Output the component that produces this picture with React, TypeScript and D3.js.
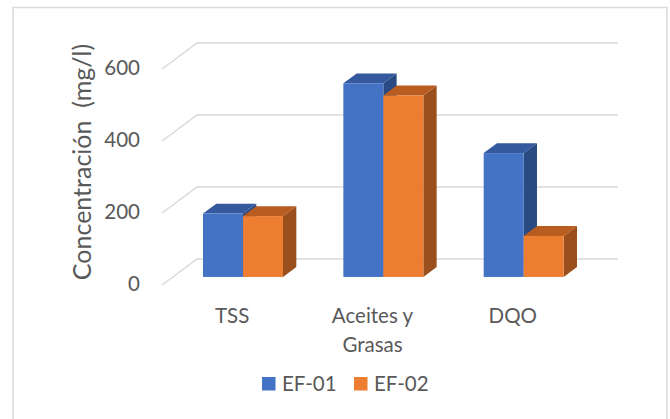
import React from "react";
import * as d3 from "d3";

const categories = ["TSS", "Aceites y|Grasas", "DQO"];
const series = ["EF-01", "EF-02"];
const ef01 = [176, 538, 344];
const ef02 = [169, 504, 114];
const yTicks = [0, 200, 400, 600];
const yTitle = "Concentración  (mg/l)";

const W = 670;
const H = 419;
const FONT = "Lato, 'Open Sans', sans-serif";
const TEXT = "#595959";
const GRID = "#D9D9D9";

const colors = {
  "EF-01": { front: "#4472C4", top: "#34599D", side: "#2A4A84" },
  "EF-02": { front: "#ED7D31", top: "#B85C20", side: "#9A4F1C" },
};

// oblique 3D setup
const floorLeft = 162;
const floorRight = 583;
const depthDx = 35;
const depthDy = -26;
const barDepthFront = 0.31;
const barDepthBack = 0.69;

export default function App() {
  const y = d3.scaleLinear().domain([0, 600]).range([285, 69]);
  const x = d3.scaleBand().domain(categories).range([floorLeft, floorRight]).padding(0);
  const xs = d3.scaleBand().domain(series).range([0, x.bandwidth()]).paddingInner(0).paddingOuter(0.754);
  const off = (d: number) => [depthDx * d, depthDy * d];

  const data = categories.map((c, i) => ({ c, vals: [ef01[i], ef02[i]] }));

  const [bfx, bfy] = off(barDepthFront);
  const [bbx, bby] = off(barDepthBack);

  return (
    <svg width={W} height={H} style={{ position: "absolute", left: 0, top: 0, background: "#fff" }}>
      <rect x={13} y={7.5} width={654} height={430} fill="#fff" stroke={GRID} strokeWidth={1.5} />
      {/* gridlines */}
      {yTicks.map((t) => {
        const yf = y(t);
        const [dx, dy] = off(1);
        return (
          <path
            key={t}
            d={`M${floorLeft},${yf}L${floorLeft + dx},${yf + dy}L${floorRight + dx},${yf + dy}`}
            fill="none"
            stroke={GRID}
            strokeWidth={1.5}
          />
        );
      })}
      {/* tick labels */}
      {yTicks.map((t) => (
        <text
          key={t}
          x={140}
          y={y(t) + 1}
          textAnchor="end"
          dominantBaseline="middle"
          fontFamily={FONT}
          fontSize={20.5}
          fill={TEXT}
        >
          {t}
        </text>
      ))}
      {/* y title */}
      <text
        transform={`translate(91,162) rotate(-90)`}
        textAnchor="middle"
        fontFamily={FONT}
        fontSize={25}
        fill={TEXT}
        style={{ whiteSpace: "pre" }}
      >
        {yTitle}
      </text>
      {/* bars */}
      {data.map((d) =>
        series.map((s, j) => {
          const v = d.vals[j];
          const x0 = (x(d.c) as number) + (xs(s) as number) + bfx;
          const x1 = x0 + xs.bandwidth();
          const y0 = y(0) + bfy;
          const yt = y(v) + bfy;
          const ddx = bbx - bfx;
          const ddy = bby - bfy;
          const col = (colors as any)[s];
          return (
            <g key={d.c + s}>
              <path
                d={`M${x1},${y0}L${x1 + ddx},${y0 + ddy}L${x1 + ddx},${yt + ddy}L${x1},${yt}Z`}
                fill={col.side}
              />
              <path
                d={`M${x0},${yt}L${x0 + ddx},${yt + ddy}L${x1 + ddx},${yt + ddy}L${x1},${yt}Z`}
                fill={col.top}
              />
              <rect x={x0} y={yt} width={x1 - x0} height={y0 - yt} fill={col.front} />
            </g>
          );
        })
      )}
      {/* category labels */}
      {categories.map((c) => {
        const lines = c.split("|");
        const cx = (x(c) as number) + x.bandwidth() / 2;
        return (
          <text key={c} textAnchor="middle" fontFamily={FONT} fontSize={20.5} fill={TEXT}>
            {lines.map((l, k) => (
              <tspan key={k} x={cx} y={323 + k * 29}>
                {l}
              </tspan>
            ))}
          </text>
        );
      })}
      {/* legend */}
      {series.map((s, i) => {
        const lx = 262 + i * 92;
        return (
          <g key={s}>
            <rect x={lx} y={377} width={13.5} height={13.5} fill={(colors as any)[s].front} />
            <text x={lx + 20} y={391} fontFamily={FONT} fontSize={20.5} fill={TEXT}>
              {s}
            </text>
          </g>
        );
      })}
    </svg>
  );
}
